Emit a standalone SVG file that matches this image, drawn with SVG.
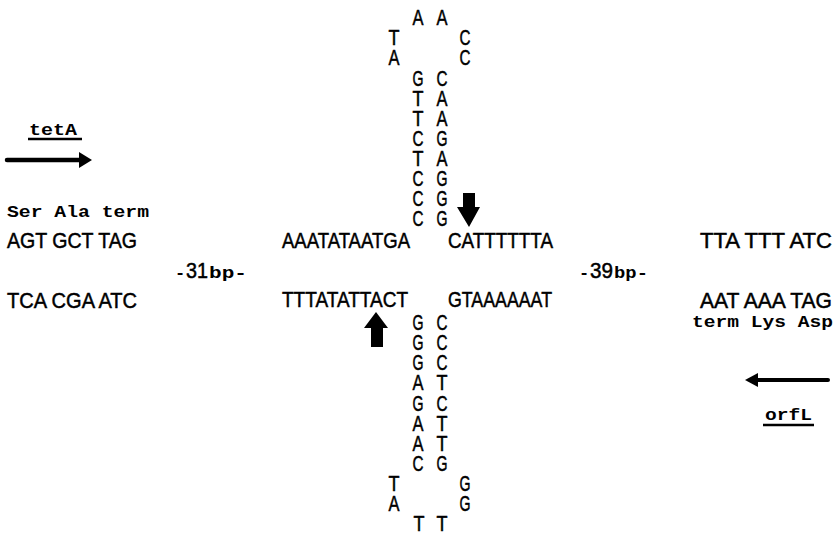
<svg xmlns="http://www.w3.org/2000/svg" width="834" height="535" viewBox="0 0 834 535">
<style>
.s{font-family:"Liberation Sans",Arial,sans-serif;font-size:22px;fill:#000;stroke:#000;stroke-width:0.5px}
.m{font-family:"Liberation Mono","Courier New",monospace;font-size:17px;font-weight:bold;fill:#000}
.c{text-anchor:middle}
.ar{fill:#000}
.ln{stroke:#000;fill:none}
</style>
<defs/>
<g id="top-hairpin" class="s c">
<text x="418" y="25" textLength="11" lengthAdjust="spacingAndGlyphs">A</text>
<text x="442" y="25" textLength="11" lengthAdjust="spacingAndGlyphs">A</text>
<text x="394" y="45" textLength="11" lengthAdjust="spacingAndGlyphs">T</text>
<text x="465" y="45" textLength="11" lengthAdjust="spacingAndGlyphs">C</text>
<text x="394" y="65" textLength="11" lengthAdjust="spacingAndGlyphs">A</text>
<text x="465" y="65" textLength="11" lengthAdjust="spacingAndGlyphs">C</text>
<text x="418" y="86" textLength="11" lengthAdjust="spacingAndGlyphs">G</text>
<text x="442" y="86" textLength="11" lengthAdjust="spacingAndGlyphs">C</text>
<text x="418" y="106" textLength="11" lengthAdjust="spacingAndGlyphs">T</text>
<text x="442" y="106" textLength="11" lengthAdjust="spacingAndGlyphs">A</text>
<text x="418" y="126" textLength="11" lengthAdjust="spacingAndGlyphs">T</text>
<text x="442" y="126" textLength="11" lengthAdjust="spacingAndGlyphs">A</text>
<text x="418" y="146" textLength="11" lengthAdjust="spacingAndGlyphs">C</text>
<text x="442" y="146" textLength="11" lengthAdjust="spacingAndGlyphs">G</text>
<text x="418" y="166" textLength="11" lengthAdjust="spacingAndGlyphs">T</text>
<text x="442" y="166" textLength="11" lengthAdjust="spacingAndGlyphs">A</text>
<text x="418" y="186" textLength="11" lengthAdjust="spacingAndGlyphs">C</text>
<text x="442" y="186" textLength="11" lengthAdjust="spacingAndGlyphs">G</text>
<text x="418" y="206" textLength="11" lengthAdjust="spacingAndGlyphs">C</text>
<text x="442" y="206" textLength="11" lengthAdjust="spacingAndGlyphs">G</text>
<text x="418" y="226" textLength="11" lengthAdjust="spacingAndGlyphs">C</text>
<text x="442" y="226" textLength="11" lengthAdjust="spacingAndGlyphs">G</text>
</g>
<g id="bottom-hairpin" class="s c">
<text x="418" y="330" textLength="11" lengthAdjust="spacingAndGlyphs">G</text>
<text x="442" y="330" textLength="11" lengthAdjust="spacingAndGlyphs">C</text>
<text x="418" y="350" textLength="11" lengthAdjust="spacingAndGlyphs">G</text>
<text x="442" y="350" textLength="11" lengthAdjust="spacingAndGlyphs">C</text>
<text x="418" y="370" textLength="11" lengthAdjust="spacingAndGlyphs">G</text>
<text x="442" y="370" textLength="11" lengthAdjust="spacingAndGlyphs">C</text>
<text x="418" y="390" textLength="11" lengthAdjust="spacingAndGlyphs">A</text>
<text x="442" y="390" textLength="11" lengthAdjust="spacingAndGlyphs">T</text>
<text x="418" y="411" textLength="11" lengthAdjust="spacingAndGlyphs">G</text>
<text x="442" y="411" textLength="11" lengthAdjust="spacingAndGlyphs">C</text>
<text x="418" y="431" textLength="11" lengthAdjust="spacingAndGlyphs">A</text>
<text x="442" y="431" textLength="11" lengthAdjust="spacingAndGlyphs">T</text>
<text x="418" y="451" textLength="11" lengthAdjust="spacingAndGlyphs">A</text>
<text x="442" y="451" textLength="11" lengthAdjust="spacingAndGlyphs">T</text>
<text x="418" y="471" textLength="11" lengthAdjust="spacingAndGlyphs">C</text>
<text x="442" y="471" textLength="11" lengthAdjust="spacingAndGlyphs">G</text>
<text x="394" y="491" textLength="11" lengthAdjust="spacingAndGlyphs">T</text>
<text x="465" y="491" textLength="11" lengthAdjust="spacingAndGlyphs">G</text>
<text x="394" y="511" textLength="11" lengthAdjust="spacingAndGlyphs">A</text>
<text x="465" y="511" textLength="11" lengthAdjust="spacingAndGlyphs">G</text>
<text x="419" y="531" textLength="11" lengthAdjust="spacingAndGlyphs">T</text>
<text x="442" y="531" textLength="11" lengthAdjust="spacingAndGlyphs">T</text>
</g>
<g id="strands" class="s">
<text x="282" y="248" textLength="128" lengthAdjust="spacingAndGlyphs">AAATATAATGA</text>
<text x="448" y="248" textLength="105" lengthAdjust="spacingAndGlyphs">CATTTTTTA</text>
<text x="282" y="307" textLength="126" lengthAdjust="spacingAndGlyphs">TTTATATTACT</text>
<text x="448" y="307" textLength="104" lengthAdjust="spacingAndGlyphs">GTAAAAAAT</text>
</g>
<g id="tetA">
<text class="m" x="29" y="135" textLength="48" lengthAdjust="spacingAndGlyphs">tetA</text>
<line class="ln" x1="28" y1="139" x2="82" y2="139" stroke-width="2.5"/>
<text class="m" x="7" y="217" textLength="142" lengthAdjust="spacingAndGlyphs">Ser Ala term</text>
<text class="s" x="7" y="248" textLength="130" lengthAdjust="spacingAndGlyphs">AGT GCT TAG</text>
<text class="s" x="7" y="308" textLength="130" lengthAdjust="spacingAndGlyphs">TCA CGA ATC</text>
</g>
<g id="orfL">
<text class="s" x="700" y="248" textLength="132" lengthAdjust="spacingAndGlyphs">TTA TTT ATC</text>
<text class="s" x="700" y="308" textLength="132" lengthAdjust="spacingAndGlyphs">AAT AAA TAG</text>
<text class="m" x="692" y="327" textLength="141" lengthAdjust="spacingAndGlyphs">term Lys Asp</text>
<text class="m" x="765" y="420" textLength="47" lengthAdjust="spacingAndGlyphs">orfL</text>
<line class="ln" x1="763" y1="425" x2="814" y2="425" stroke-width="2.5"/>
</g>
<g id="spacers">
<text y="278"><tspan class="m" x="175">-</tspan><tspan class="s" x="186" textLength="22" lengthAdjust="spacingAndGlyphs">31</tspan><tspan class="m" x="209" textLength="38" lengthAdjust="spacingAndGlyphs">bp-</tspan></text>
<text y="278"><tspan class="m" x="579">-</tspan><tspan class="s" x="590" textLength="23" lengthAdjust="spacingAndGlyphs">39</tspan><tspan class="m" x="614" textLength="34" lengthAdjust="spacingAndGlyphs">bp-</tspan></text>
</g>
<g id="connectors">
<line class="ln" x1="7" y1="160" x2="82" y2="160" stroke-width="4.5" stroke-linecap="round"/>
<path class="ar" d="M79,152 L92,160 L79,168 Z"/>
<line class="ln" x1="758" y1="380" x2="828" y2="380" stroke-width="4" stroke-linecap="round"/>
<path class="ar" d="M758,373 L745,380 L758,387 Z"/>
<path class="ar" d="M463,193 L475,193 L475,207 L480,207 L469,227 L457,207 L463,207 Z"/>
<path class="ar" d="M371,347 L383,347 L383,328 L388,328 L376,312 L364,328 L371,328 Z"/>
</g>
</svg>
